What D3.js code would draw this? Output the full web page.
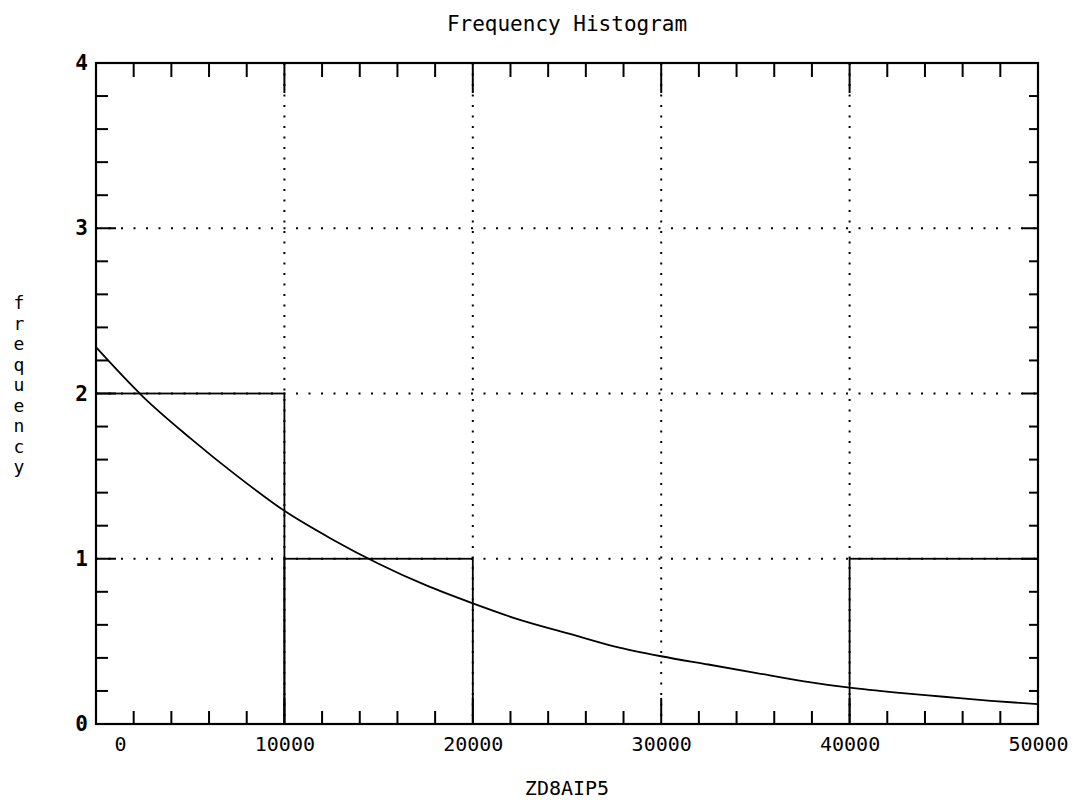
<!DOCTYPE html>
<html>
<head>
<meta charset="utf-8">
<script src="https://cdn.jsdelivr.net/npm/d3@7"></script>
<style>
  body { margin: 0; background: #fff; }
  svg { display: block; }
  text { fill: #000; }
</style>
</head>
<body>
<svg id="chart" width="1075" height="800"></svg>
<script>
// ---- data ----
const binEdges = [0, 10000, 20000, 30000, 40000, 50000];
const binCounts = [2, 1, 0, 0, 1];
const curveX = [0, 2500, 5000, 7500, 10000, 12500, 15000, 17500, 20000, 22500, 25000,
                27500, 30000, 32500, 35000, 37500, 40000, 42500, 45000, 47500, 50000];
const curveY = [2.28, 1.98, 1.73, 1.50, 1.29, 1.12, 0.97, 0.84, 0.73, 0.63, 0.55,
                0.47, 0.41, 0.36, 0.31, 0.26, 0.22, 0.19, 0.165, 0.14, 0.12];
const xTicks = [0, 10000, 20000, 30000, 40000, 50000];
const yTicks = [0, 1, 2, 3, 4];
const xGrid = [10000, 20000, 30000, 40000];
const yGrid = [1, 2, 3];
const titleText = "Frequency Histogram";
const xLabel = "ZD8AIP5";
const yLabel = "frequency";

// ---- layout ----
const L = 96, R = 1038, T = 63, B = 724;
const svg = d3.select("#chart");
const x = d3.scaleLinear().domain([0, 50000]).range([L, R]);
const y = d3.scaleLinear().domain([0, 4]).range([B, T]);
const mono = "'DejaVu Sans Mono', monospace";

// grid (dotted)
const g = svg.append("g");
g.selectAll("line.gx").data(xGrid).join("line")
  .attr("x1", d => x(d)).attr("x2", d => x(d)).attr("y1", T).attr("y2", B)
  .attr("stroke", "#000").attr("stroke-width", 2)
  .attr("stroke-dasharray", "2,8.5");
g.selectAll("line.gy").data(yGrid).join("line")
  .attr("x1", L).attr("x2", R).attr("y1", d => y(d)).attr("y2", d => y(d))
  .attr("stroke", "#000").attr("stroke-width", 2)
  .attr("stroke-dasharray", "2,10.5");

// histogram bars (outline)
const bars = binCounts.map((c, i) => ({x0: binEdges[i], x1: binEdges[i + 1], c}))
  .filter(d => d.c > 0);
svg.append("g").selectAll("rect").data(bars).join("rect")
  .attr("x", d => x(d.x0)).attr("width", d => x(d.x1) - x(d.x0))
  .attr("y", d => y(d.c)).attr("height", d => y(0) - y(d.c))
  .attr("fill", "none").attr("stroke", "#000").attr("stroke-width", 1.8);

// curve
const line = d3.line().x((d, i) => x(curveX[i])).y(d => y(d)).curve(d3.curveMonotoneX);
svg.append("path").datum(curveY).attr("d", line)
  .attr("fill", "none").attr("stroke", "#000").attr("stroke-width", 1.8);

// ticks
const minorX = d3.range(0, 50001, 2000);
const minorY = d3.range(0, 4.001, 0.2).map(v => +v.toFixed(1));
const isMajX = v => v % 10000 === 0;
const isMajY = v => Math.abs(v - Math.round(v)) < 1e-6;
const tk = svg.append("g").attr("stroke", "#000").attr("stroke-width", 2);
tk.selectAll("line.bx").data(minorX).join("line")
  .attr("x1", d => x(d)).attr("x2", d => x(d))
  .attr("y1", B).attr("y2", d => B - (isMajX(d) ? 26 : 13));
tk.selectAll("line.tx").data(minorX).join("line")
  .attr("x1", d => x(d)).attr("x2", d => x(d))
  .attr("y1", T).attr("y2", d => T + (isMajX(d) ? 30 : 14));
tk.selectAll("line.ly").data(minorY).join("line")
  .attr("y1", d => y(d)).attr("y2", d => y(d))
  .attr("x1", L).attr("x2", d => L + (isMajY(d) ? 20 : 12));
tk.selectAll("line.ry").data(minorY).join("line")
  .attr("y1", d => y(d)).attr("y2", d => y(d))
  .attr("x1", R).attr("x2", d => R - (isMajY(d) ? 16 : 9));

// frame
svg.append("rect").attr("x", L).attr("y", T).attr("width", R - L).attr("height", B - T)
  .attr("fill", "none").attr("stroke", "#000").attr("stroke-width", 2.2);

// x tick labels via axis
const xAxis = svg.append("g").attr("transform", `translate(0,${B})`)
  .call(d3.axisBottom(x).tickValues(xTicks).tickSize(0).tickPadding(13).tickFormat(d3.format("d")));
xAxis.select(".domain").remove();
xAxis.selectAll("text").attr("font-family", mono).attr("font-size", 20)
  .attr("dx", d => d === 0 ? 24 : 0);

// y tick labels via axis
const yAxis = svg.append("g").attr("transform", `translate(${L},0)`)
  .call(d3.axisLeft(y).tickValues(yTicks).tickSize(0).tickPadding(8).tickFormat(d3.format("d")));
yAxis.select(".domain").remove();
yAxis.selectAll("text").attr("font-family", mono).attr("font-size", 21).attr("font-weight", "bold");

// title
svg.append("text").attr("x", 567).attr("y", 31).attr("text-anchor", "middle")
  .attr("font-family", mono).attr("font-size", 21).text(titleText);

// x label
svg.append("text").attr("x", 567).attr("y", 795).attr("text-anchor", "middle")
  .attr("font-family", mono).attr("font-size", 20).text(xLabel);

// y label, stacked letters
svg.append("g").selectAll("text").data(yLabel.split("")).join("text")
  .attr("x", 19).attr("y", (d, i) => 309 + i * 20.5).attr("text-anchor", "middle")
  .attr("font-family", mono).attr("font-size", 18).text(d => d);
</script>
</body>
</html>
